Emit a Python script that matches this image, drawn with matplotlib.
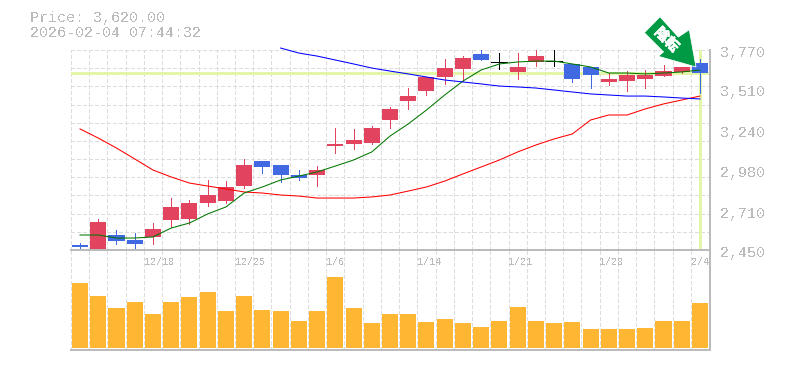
#!/usr/bin/env python3
import matplotlib

matplotlib.use("Agg")
import matplotlib.patheffects as pe
import matplotlib.pyplot as plt
from matplotlib.patches import Polygon

plt.rcParams["font.family"] = ["Liberation Mono", "DejaVu Sans Mono"]
plt.rcParams["text.antialiased"] = False
plt.rcParams["lines.antialiased"] = False
plt.rcParams["patch.antialiased"] = False

W, H = 785, 370
GRAY = "#bbbbbb"
GRID = "#dcdcdc"
UP = "#e2445f"
DOWN = "#4169e1"
VOL = "#ffb733"
HILITE = "#e2f5a8"

opens = [2483, 2450, 2549, 2516, 2536, 2648, 2655, 2760, 2773, 2872, 3037, 3011, 2945, 2945, 3136, 3150, 3156, 3308,
         3433, 3499, 3592, 3645, 3744, 3693, 3625, 3691, 3697, 3678, 3658, 3559, 3565, 3579, 3598, 3625, 3684]
closes = [2470, 2635, 2509, 2490, 2589, 2734, 2760, 2813, 2866, 3011, 2998, 2945, 2925, 2978, 3150, 3176, 3255, 3381,
          3466, 3592, 3651, 3717, 3704, 3693, 3658, 3730, 3697, 3579, 3605, 3579, 3605, 3605, 3631, 3658, 3620]
highs = [2496, 2655, 2582, 2562, 2628, 2793, 2780, 2912, 2905, 3051, 3037, 3011, 2978, 3004, 3255, 3249, 3268, 3394,
         3519, 3592, 3711, 3730, 3770, 3750, 3750, 3770, 3770, 3678, 3658, 3618, 3631, 3638, 3671, 3658, 3711]
lows = [2450, 2450, 2490, 2463, 2490, 2602, 2622, 2740, 2760, 2859, 2958, 2899, 2912, 2872, 3090, 3117, 3150, 3255,
        3381, 3473, 3546, 3565, 3704, 3645, 3579, 3664, 3664, 3559, 3519, 3539, 3499, 3519, 3598, 3618, 3486]
ma_green = [2549, 2549, 2529, 2529, 2536, 2595, 2628, 2688, 2734, 2826, 2866, 2912, 2938, 2965, 3004, 3044, 3097, 3202,
            3282, 3374, 3473, 3565, 3638, 3678, 3691, 3697, 3697, 3678, 3658, 3618, 3618, 3612, 3618, 3625, 3638]
ma_red = [3249, 3189, 3123, 3051, 2978, 2932, 2892, 2872, 2853, 2833, 2826, 2813, 2806, 2793, 2793, 2793, 2800, 2813,
          2839, 2866, 2905, 2952, 2998, 3044, 3097, 3143, 3183, 3216, 3308, 3341, 3341, 3381, 3414, 3440, 3466]
ma_blue = [3783, 3750, 3730, 3704, 3678, 3651, 3631, 3612, 3592, 3572, 3559, 3546, 3532, 3526, 3519, 3506, 3493, 3480,
           3473, 3466, 3466, 3460, 3453, 3447]
volume = [65, 52, 40, 46, 34, 46, 51, 56, 37, 52, 38, 37, 27, 37, 71, 40, 25, 34,
          34, 26, 29, 25, 21, 27, 41, 27, 25, 26, 19, 19, 19, 20, 27, 27, 45]
date_labels = ["12/18", "12/25", "1/6", "1/14", "1/21", "1/28", "2/4"]
date_pos = [4, 9, 14, 19, 24, 29, 34]
price_labels = ["2,450", "2,710", "2,980", "3,240", "3,510", "3,770"]
price_pos = [2450, 2710, 2980, 3240, 3510, 3770]
last_price = 3620


def box(left, top, right, bottom):
    return [left / W, 1 - bottom / H, (right - left) / W, (bottom - top) / H]


def style_grid(ax, n):
    ax.set_xlim(-0.5, 34.55)
    ax.set_xticks([i - 0.5 for i in range(n)])
    ax.grid(True, color=GRID, lw=0.75, linestyle=(0, (3, 2)), zorder=0)
    ax.set_axisbelow(True)
    ax.tick_params(length=0, labelleft=False, labelbottom=False)


fig = plt.figure(figsize=(W / 100, H / 100), dpi=100)
ax = fig.add_axes(box(70.9, 50, 710, 250))
ax_vol = fig.add_axes(box(70.9, 250, 710, 350))
n = len(opens)
xs = list(range(n))

# price panel
style_grid(ax, n)
ax.set_ylim(2450, 3770)
ax.set_yticks(range(2450, 3771, 120))
ax.axhline(last_price, color=HILITE, lw=2.0, zorder=1)
ax.axvline(xs[-1], color=HILITE, lw=2.0, zorder=1)

for i in xs:
    o, c = opens[i], closes[i]
    col = "black" if o == c else UP if c > o else DOWN
    ax.vlines(i, lows[i], highs[i], color=col, lw=0.7, zorder=3)
    if o == c:
        ax.hlines(o, i - 0.44, i + 0.44, color=col, lw=0.7, zorder=3)
    else:
        ax.bar(i, abs(c - o), bottom=min(o, c), width=0.88, color=col, zorder=3)

ax.plot(xs, ma_red, color="#ff0000", lw=0.75, antialiased=True, zorder=4)
ax.plot(xs, ma_green, color="#007700", lw=0.75, antialiased=True, zorder=4)
ax.plot(xs[11:], ma_blue, color="#0000ff", lw=0.75, antialiased=True, zorder=4, clip_on=False)

for s in ("top", "left"):
    ax.spines[s].set_visible(False)
for s in ("right", "bottom"):
    ax.spines[s].set_color(GRAY)
    ax.spines[s].set_linewidth(1.2)

for p, lab in zip(price_pos, price_labels):
    ax.annotate(lab, (1, p), xycoords=ax.get_yaxis_transform(), xytext=(10, -3), textcoords="offset pixels",
                va="center", ha="left", fontsize=10.8, color=GRAY, annotation_clip=False)

# volume panel
style_grid(ax_vol, n)
ax_vol.set_ylim(-2, 98)
ax_vol.set_yticks([])
ax_vol.bar(xs, volume, width=0.88, color=VOL, zorder=3)
ax_vol.spines["left"].set_visible(False)
for s in ("top", "right", "bottom"):
    ax_vol.spines[s].set_color(GRAY)
    ax_vol.spines[s].set_linewidth(1.2)

for i, lab in zip(date_pos, date_labels):
    ax_vol.annotate(lab, (i - 0.5, 1), xycoords=ax_vol.get_xaxis_transform(), xytext=(0, -12),
                    textcoords="offset pixels", va="center", ha="left", fontsize=7.2, color=GRAY)

fig.text(30 / W, 1 - 18 / H, "Price: 3,620.00", fontsize=10.8, color=GRAY, va="center")
fig.text(30 / W, 1 - 33 / H, "2026-02-04 07:44:32", fontsize=10.8, color=GRAY, va="center")

# green stamp arrow
arrow_px = [(660, 16.7), (678.3, 37), (689.3, 29.7), (696, 67), (658.3, 56.3), (663.5, 51.9), (644.3, 32.7)]
fig.add_artist(Polygon([(x / W, 1 - y / H) for x, y in arrow_px], closed=True, transform=fig.transFigure,
                       facecolor="#009944", edgecolor="white", lw=0.6, antialiased=True, zorder=10))
stamp = fig.text(666.7 / W, 1 - 39.8 / H, "陰転", family=["Noto Sans CJK JP", "DejaVu Sans"], fontsize=10,
                 fontweight="bold", color="white", rotation=-45, rotation_mode="anchor", ha="center", va="center",
                 antialiased=True, zorder=11)
stamp.set_path_effects([pe.withStroke(linewidth=0.5, foreground="white")])

fig.savefig("out.png", dpi=100)
